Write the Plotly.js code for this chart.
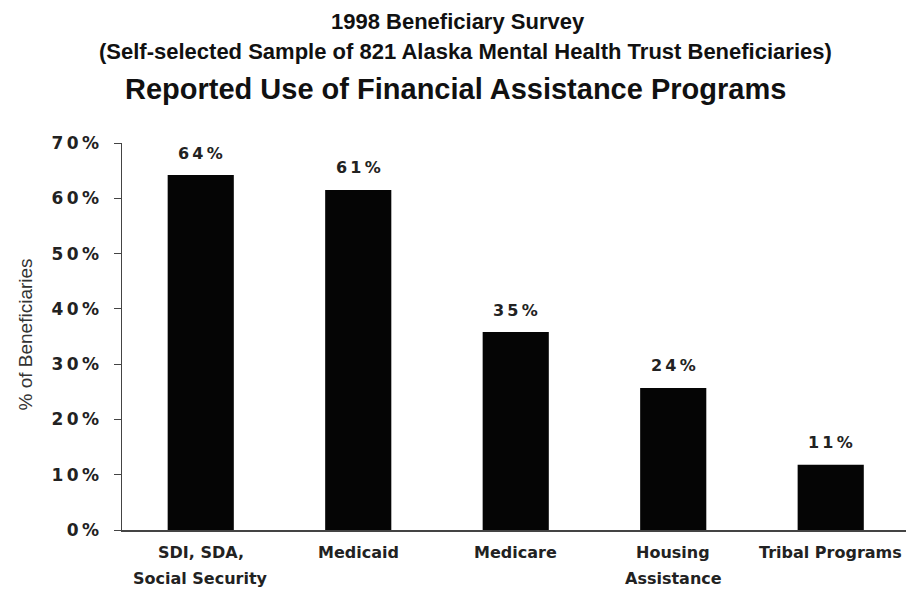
<!DOCTYPE html>
<html><head><meta charset="utf-8">
<script src="https://cdn.plot.ly/plotly-3.0.1.min.js"></script>
<style>body{margin:0;background:#fff}#c{width:906px;height:591px}</style>
</head><body><div id="c"></div>
<script>
var categories = ["SDI, SDA, Social Security", "Medicaid", "Medicare", "Housing Assistance", "Tribal Programs"];
var categoryLines = [["SDI, SDA,", "Social Security"], ["Medicaid"], ["Medicare"], ["Housing", "Assistance"], ["Tribal Programs"]];
var values = [64.2, 61.5, 35.8, 25.7, 11.8];
var valueLabels = ["64%", "61%", "35%", "24%", "11%"];
var yTickVals = [0, 10, 20, 30, 40, 50, 60, 70];
var yTickText = ["0%", "10%", "20%", "30%", "40%", "50%", "60%", "70%"];
var titleLines = ["1998 Beneficiary Survey",
  "(Self-selected Sample of 821 Alaska Mental Health Trust Beneficiaries)",
  "Reported Use of Financial Assistance Programs"];
var yTitle = "% of Beneficiaries";

function spaced(s) { return s.split("").join("\u2009"); }

var trace = {
  type: "bar",
  x: categories,
  y: values,
  marker: {color: "#050505"},
  hoverinfo: "none"
};

var sans = "DejaVu Sans, Verdana, sans-serif";
var arial = "Liberation Sans, Arial, sans-serif";

var titleX = [0.4286, 0.4375, 0.426];
var titleShift = [122, 92, 54];
var titleSize = [22, 22, 29];
var ann = [];
for (var t = 0; t < titleLines.length; t++) {
  ann.push({text: "<b>" + titleLines[t] + "</b>", xref: "paper", yref: "paper", x: titleX[t], y: 1,
    xanchor: "center", yanchor: "middle", yshift: titleShift[t], showarrow: false,
    font: {family: arial, size: titleSize[t], color: "#111"}});
}
for (var i = 0; i < categories.length; i++) {
  ann.push({x: categories[i], y: values[i], xref: "x", yref: "y", text: "<b>" + spaced(valueLabels[i]) + "</b>",
    yanchor: "middle", showarrow: false, yshift: 22, font: {family: sans, size: 16, color: "#222"}});
  for (var k = 0; k < categoryLines[i].length; k++) {
    ann.push({x: categories[i], y: 0, xref: "x", yref: "paper", text: "<b>" + categoryLines[i][k] + "</b>",
      yanchor: "middle", showarrow: false, yshift: -22 - 26 * k, font: {family: sans, size: 16, color: "#222"}});
  }
}
ann.push({text: yTitle, xref: "paper", yref: "paper", x: 0, y: 0.5, xanchor: "center", yanchor: "middle",
  xshift: -97, yshift: 2, textangle: -90, showarrow: false, font: {family: arial, size: 19, color: "#333"}});

var layout = {
  width: 906, height: 591,
  paper_bgcolor: "#fff", plot_bgcolor: "#fff",
  margin: {l: 122, r: 0, t: 143, b: 61},
  bargap: 0.58,
  showlegend: false,
  font: {family: sans, color: "#222"},
  xaxis: {
    type: "category",
    range: [-0.5, 4.478],
    showline: true, linecolor: "#444", linewidth: 1.5,
    ticks: "", showgrid: false, showticklabels: false
  },
  yaxis: {
    range: [0, 70],
    tickvals: yTickVals, ticktext: yTickText.map(spaced),
    showline: true, linecolor: "#444", linewidth: 1.5,
    ticks: "outside", ticklen: 7, tickcolor: "#444",
    showgrid: false, zeroline: false,
    tickfont: {family: sans, size: 17, color: "#222", weight: "bold"},
    ticklabelstandoff: 11
  },
  annotations: ann
};

Plotly.newPlot("c", [trace], layout, {displayModeBar: false, staticPlot: true});
</script>
</body></html>
